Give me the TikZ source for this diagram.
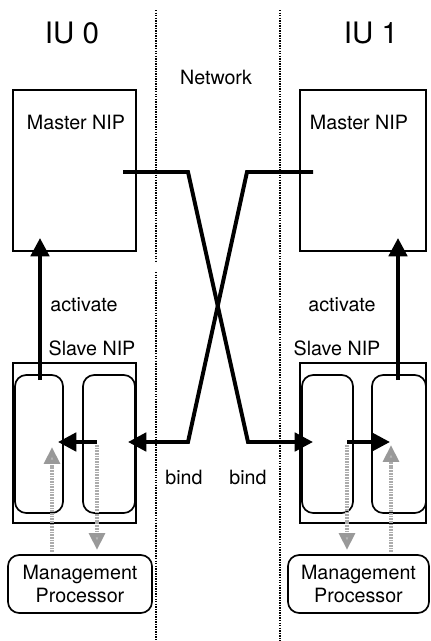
\documentclass[tikz,border=0pt]{standalone}
\usepackage{fontspec}
\setmainfont{TeX Gyre Heros}
\usetikzlibrary{arrows.meta,calc}

\begin{document}
\begin{tikzpicture}[x=0.025cm,y=-0.025cm,
	box/.style={draw,line width=1.3pt,inner sep=0pt},
	cell/.style={draw,line width=1.2pt,rounded corners=8pt,inner sep=0pt},
	sig/.style={line width=2.8pt,-{Triangle[width=13pt,length=13pt]}},
	mgmt/.style={line width=3.5pt,draw=gray!65,dash pattern=on 1.2pt off 0.7pt,-{Triangle[width=11pt,length=12pt,fill=gray!55,color=gray!80]}},
	lbl/.style={font=\fontsize{14}{16.5}\selectfont,inner sep=0pt}]
	\useasboundingbox (0,0) rectangle (430,641);
	% network boundary
	\draw[line width=1.4pt,dash pattern=on 1pt off 0.8pt] (156,10) -- (156,263) (156,272) -- (156,641);
	\draw[line width=1.4pt,dash pattern=on 1pt off 0.8pt] (280,10) -- (280,641);
	\node[lbl,font=\fontsize{21}{24}\selectfont] (iu0) at (72,33) {IU 0};
	\node[lbl,font=\fontsize{21}{24}\selectfont] (iu1) at (371,33) {IU 1};
	\node[lbl] (net) at (216,77) {Network};
	% master NIPs
	\node[box,minimum width=3.075cm,minimum height=4.025cm] (m0) at (74.5,170.5) {};
	\node[box,minimum width=3.15cm,minimum height=4.025cm] (m1) at (363,170.5) {};
	\node[lbl] (m0l) at (76,122) {Master NIP};
	\node[lbl] (m1l) at (359,122) {Master NIP};
	% slave NIPs
	\node[box,minimum width=3.075cm,minimum height=4cm] (s0) at (74.5,443) {};
	\node[box,minimum width=3.15cm,minimum height=4cm] (s1) at (363,443) {};
	\node[lbl] (s0l) at (92,348) {Slave NIP};
	\node[lbl] (s1l) at (337,348) {Slave NIP};
	\node[cell,minimum width=1.2cm,minimum height=3.45cm] (c0a) at (39,444) {};
	\node[cell,minimum width=1.3cm,minimum height=3.45cm] (c0b) at (109,444) {};
	\node[cell,minimum width=1.275cm,minimum height=3.45cm] (c1a) at (327.5,444) {};
	\node[cell,minimum width=1.35cm,minimum height=3.45cm] (c1b) at (399,444) {};
	% management processors
	\node[cell,lbl,align=center,minimum width=3.6cm,minimum height=1.45cm] (p0) at (80,584) {Management\\Processor};
	\node[cell,lbl,align=center,minimum width=3.525cm,minimum height=1.45cm] (p1) at (358.5,584) {Management\\Processor};
	% activate
	\coordinate (a0) at (40,380); \coordinate (a0t) at (40,238);
	\coordinate (a1) at (398,380); \coordinate (a1t) at (398,238);
	\draw[sig] (a0) -- (a0t);
	\draw[sig] (a1) -- (a1t);
	\node[lbl] (act0) at (84,305) {activate};
	\node[lbl] (act1) at (342,305) {activate};
	% bind paths across the network
	\coordinate (x0) at (123,172); \coordinate (x0k) at (188,172);
	\coordinate (x1) at (313,172); \coordinate (x1k) at (247,172);
	\coordinate (y0k) at (188,442); \coordinate (y0) at (128,442);
	\coordinate (y1k) at (248,442); \coordinate (y1) at (313,442);
	\draw[sig] (x0) -- (x0k) -- (y1k) -- (y1);
	\draw[sig] (x1) -- (x1k) -- (y0k) -- (y0);
	\node[lbl] (b0) at (184,477) {bind};
	\node[lbl] (b1) at (248,477) {bind};
	% inside the slave NIPs
	\coordinate (i0) at (97,442); \coordinate (i0t) at (58,442);
	\coordinate (i1) at (347,442); \coordinate (i1t) at (390,442);
	\draw[sig] (i0) -- (i0t);
	\draw[sig] (i1) -- (i1t);
	\coordinate (u0) at (52,552); \coordinate (u0t) at (52,447);
	\coordinate (d0) at (97,445); \coordinate (d0t) at (97,550);
	\coordinate (d1) at (347,445); \coordinate (d1t) at (347,550);
	\coordinate (u1) at (391,552); \coordinate (u1t) at (391,445);
	\draw[mgmt] (u0) -- (u0t);
	\draw[mgmt] (d0) -- (d0t);
	\draw[mgmt] (d1) -- (d1t);
	\draw[mgmt] (u1) -- (u1t);
\end{tikzpicture}
\end{document}
